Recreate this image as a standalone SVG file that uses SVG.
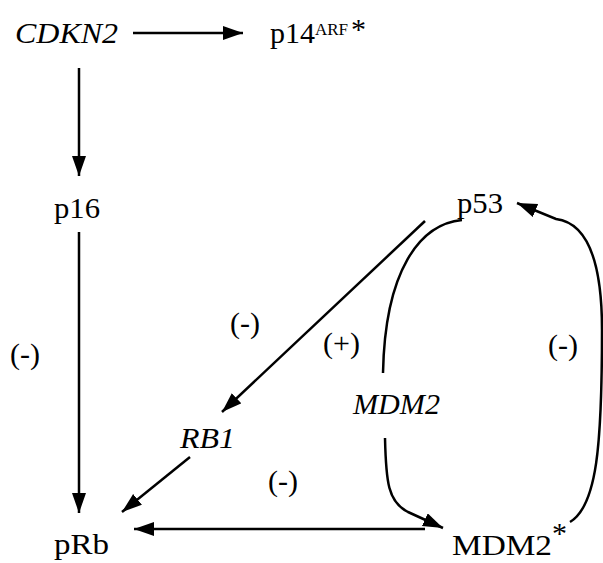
<svg xmlns="http://www.w3.org/2000/svg" width="603" height="563" viewBox="0 0 603 563">
<defs>
<marker id="ah" markerUnits="userSpaceOnUse" markerWidth="22" markerHeight="16" refX="20" refY="7" orient="auto">
<path d="M0,0 L20,7 L0,14 Z" fill="#000"/>
</marker>
<style>
text{font-family:"Liberation Serif","Times New Roman",serif;font-size:30px;fill:#000}
.it{font-style:italic}
.sup{font-size:17px}
.c{fill:none;stroke:#000;stroke-width:2.5}
</style>
</defs>
<rect width="603" height="563" fill="#fff"/>
<g font-family="Liberation Serif, serif">
<g id="cdkn2"><text class="it" x="15" y="43" textLength="103" lengthAdjust="spacingAndGlyphs">CDKN2</text></g>
<g id="p14arf"><text x="270" y="43">p14<tspan class="sup" dy="-8">ARF</tspan></text><text x="351" y="39">*</text></g>
<g id="p16"><text x="54" y="218" textLength="46" lengthAdjust="spacingAndGlyphs">p16</text></g>
<g id="p53"><text x="457" y="213" textLength="46" lengthAdjust="spacingAndGlyphs">p53</text></g>
<g id="rb1"><text class="it" x="180" y="448" textLength="55" lengthAdjust="spacingAndGlyphs">RB1</text></g>
<g id="mdm2gene"><text class="it" x="353" y="414" textLength="87" lengthAdjust="spacingAndGlyphs">MDM2</text></g>
<g id="prb"><text x="54" y="554" textLength="55" lengthAdjust="spacingAndGlyphs">pRb</text></g>
<g id="mdm2prot"><text x="452" y="555" textLength="100" lengthAdjust="spacingAndGlyphs">MDM2</text><text x="552" y="543">*</text></g>
<g id="labels">
<text x="10" y="364">(-)</text>
<text x="230" y="333">(-)</text>
<text x="323" y="353">(+)</text>
<text x="548" y="355">(-)</text>
<text x="268" y="491">(-)</text>
</g>
</g>
<g id="connectors">
<path class="c" d="M133,33 L243,33" marker-end="url(#ah)"/>
<path class="c" d="M79,68 L79,176" marker-end="url(#ah)"/>
<path class="c" d="M79,232 L79,513" marker-end="url(#ah)"/>
<path class="c" d="M425,221 L222,412" marker-end="url(#ah)"/>
<path class="c" d="M190,457 L122,512" marker-end="url(#ah)"/>
<path class="c" d="M425,529 L134,529" marker-end="url(#ah)"/>
<path class="c" d="M462,220 C420,224 385,270 383,373"/>
<path class="c" d="M385,438 C386,482 388,502 408,512 L443,528" marker-end="url(#ah)"/>
<path class="c" d="M570,522 C597,506 602,445 602,330 C602,262 588,223 556,219 L517,203" marker-end="url(#ah)"/>
</g>
</svg>
